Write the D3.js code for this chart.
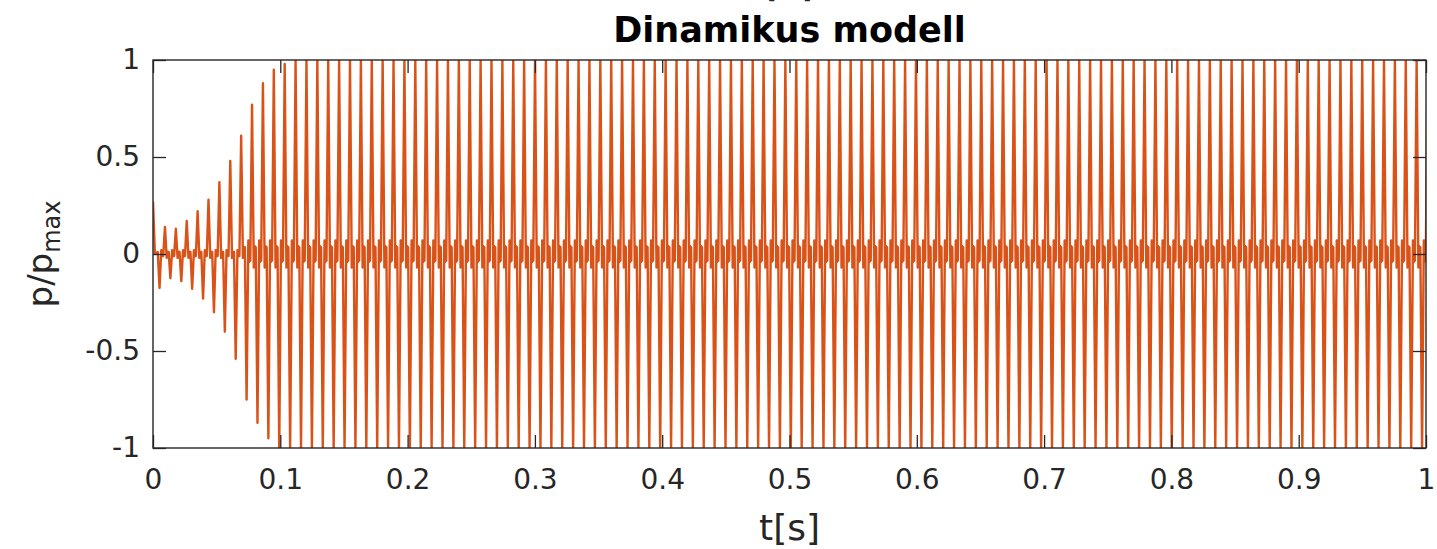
<!DOCTYPE html>
<html>
<head>
  <meta charset="utf-8">
  <title>Dinamikus modell</title>
  <script src="https://d3js.org/d3.v7.min.js"></script>
  <style>
    body { margin: 0; background: #fff; }
    text { font-family: "DejaVu Sans", sans-serif; fill: #262626; }
  </style>
</head>
<body>
<script>
  // values
  var xTicks = [0, 0.1, 0.2, 0.3, 0.4, 0.5, 0.6, 0.7, 0.8, 0.9, 1];
  var yTicks = [-1, -0.5, 0, 0.5, 1];
  var startValue = 0.27;     // p/pmax at t = 0
  var firstUp = 0.0094;      // time of the first upward spike [s]
  var period = 0.00855;      // spike spacing [s]
  // peaks of the build-up (downward spike comes half a period before each upward one)
  var rampDown = [-0.175, -0.125, -0.14, -0.18, -0.23, -0.30, -0.40, -0.54, -0.75, -0.87, -0.95, -1.0];
  var rampUp   = [0.14, 0.13, 0.17, 0.22, 0.28, 0.37, 0.48, 0.61, 0.77, 0.88, 0.95, 0.98];
  var steadyPeak = 1;
  var rippleSmall = 0.02;    // wiggle around 0 during build-up
  var rippleLarge = 0.07;    // wiggle around 0 afterwards

  var W = 1437, H = 549;
  var pLeft = 153, pRight = 1426, pTop = 60, pBottom = 448;

  var svg = d3.select("body").append("svg")
    .attr("width", W)
    .attr("height", H);

  var x = d3.scaleLinear().domain([0, 1]).range([pLeft, pRight]);
  var y = d3.scaleLinear().domain([-1, 1]).range([pBottom, pTop]);

  // build the trace
  var pts = [[0, startValue], [0.0015, 0]];
  var w = period * 0.16;
  for (var k = 0; ; k++) {
    var tu = firstUp + k * period;
    var td = tu - period / 2;
    if (td > 1.01) break;
    var dn = k < rampDown.length ? rampDown[k] : -steadyPeak;
    var up = k < rampUp.length ? rampUp[k] : steadyPeak;
    var r = k < 8 ? rippleSmall : rippleLarge;
    pts.push([td - w, r * 0.5]);
    pts.push([td, dn]);
    pts.push([td + w, r]);
    pts.push([td + period * 0.22, -r * 0.6]);
    pts.push([td + period * 0.29, r * 0.7]);
    pts.push([tu - w, -r * 0.5]);
    pts.push([tu, up]);
    pts.push([tu + w, -r]);
    pts.push([tu + period * 0.23, r * 0.6]);
    pts.push([tu + period * 0.3, -r * 0.7]);
  }

  svg.append("clipPath").attr("id", "clip")
    .append("rect")
    .attr("x", pLeft).attr("y", pTop)
    .attr("width", pRight - pLeft).attr("height", pBottom - pTop);

  var line = d3.line()
    .x(function(d){ return x(d[0]); })
    .y(function(d){ return y(d[1]); });

  svg.append("path")
    .datum(pts)
    .attr("clip-path", "url(#clip)")
    .attr("fill", "none")
    .attr("stroke", "#D95319")
    .attr("stroke-width", 2.4)
    .attr("stroke-linejoin", "round")
    .attr("d", line);

  // axes, MATLAB style: box with inward ticks
  var tick = 13;
  var fmt = function(d){ return String(d); };

  svg.append("g")
    .attr("transform", "translate(0," + pBottom + ")")
    .call(d3.axisBottom(x).tickValues(xTicks).tickFormat(fmt)
      .tickSizeInner(-tick).tickSizeOuter(0).tickPadding(21));
  svg.append("g")
    .attr("transform", "translate(0," + pTop + ")")
    .call(d3.axisTop(x).tickValues(xTicks).tickFormat("")
      .tickSizeInner(-tick).tickSizeOuter(0));
  svg.append("g")
    .attr("transform", "translate(" + pLeft + ",0)")
    .call(d3.axisLeft(y).tickValues(yTicks).tickFormat(fmt)
      .tickSizeInner(-tick).tickSizeOuter(0).tickPadding(13));
  svg.append("g")
    .attr("transform", "translate(" + pRight + ",0)")
    .call(d3.axisRight(y).tickValues(yTicks).tickFormat("")
      .tickSizeInner(-tick).tickSizeOuter(0));

  svg.selectAll(".domain").remove();
  svg.selectAll(".tick line").attr("stroke", "#262626").attr("stroke-width", 1.3);
  svg.selectAll(".tick text")
    .style("font-family", "'DejaVu Sans', sans-serif")
    .style("font-size", "28px")
    .attr("fill", "#262626");

  svg.append("rect")
    .attr("x", pLeft).attr("y", pTop)
    .attr("width", pRight - pLeft).attr("height", pBottom - pTop)
    .attr("fill", "none")
    .attr("stroke", "#262626")
    .attr("stroke-width", 1.4);

  // titles (the first line is cut off by the top edge, as in the source)
  var cx = (pLeft + pRight) / 2;
  svg.append("text")
    .attr("x", cx).attr("y", -3)
    .attr("text-anchor", "middle")
    .style("font-size", "34px").style("font-weight", "bold")
    .text("(b)");
  svg.append("text")
    .attr("x", cx).attr("y", 42)
    .attr("text-anchor", "middle")
    .style("font-size", "35px").style("font-weight", "bold")
    .style("fill", "#000")
    .text("Dinamikus modell");

  svg.append("text")
    .attr("x", cx).attr("y", 540)
    .attr("text-anchor", "middle")
    .style("font-size", "36px")
    .text("t[s]");

  var yl = svg.append("text")
    .attr("transform", "translate(52," + ((pTop + pBottom) / 2) + ") rotate(-90)")
    .attr("text-anchor", "middle")
    .style("font-size", "34px");
  yl.append("tspan").text("p/p");
  yl.append("tspan").attr("dy", 8).style("font-size", "24px").text("max");
</script>
</body>
</html>
